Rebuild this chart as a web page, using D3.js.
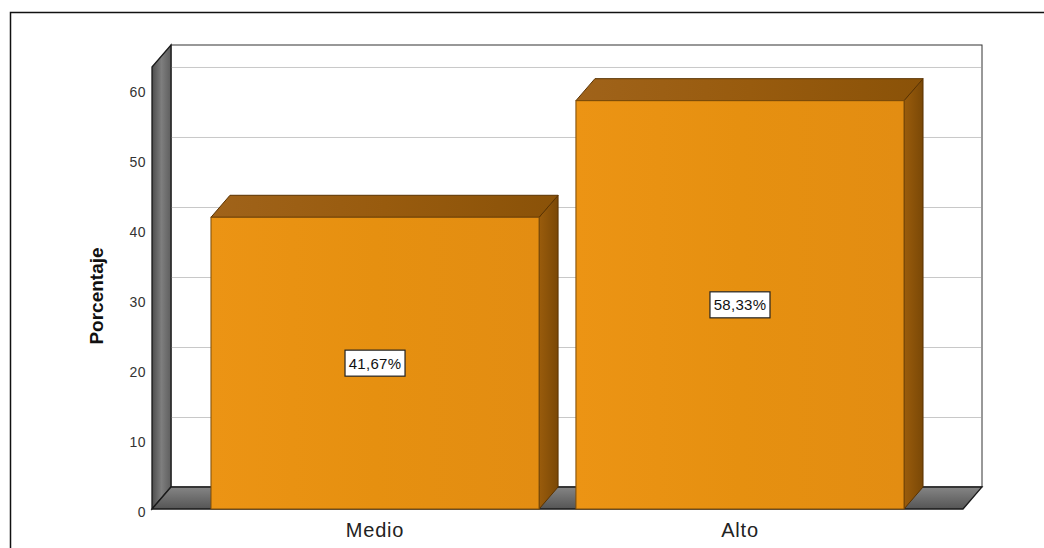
<!DOCTYPE html>
<html>
<head>
<meta charset="utf-8">
<script src="https://cdn.jsdelivr.net/npm/d3@7"></script>
<style>
  body { margin: 0; background: #fff; }
  svg { display: block; }
</style>
</head>
<body>
<svg id="chart" width="1044" height="548"></svg>
<script>
// Data
const categories = ["Medio", "Alto"];
const percentages = [41.67, 58.33];
const valueLabels = ["41,67%", "58,33%"];
const yTicks = [0, 10, 20, 30, 40, 50, 60];
const yTitle = "Porcentaje";

const svg = d3.select("#chart");

// Front plane of the 3D box and its depth offset
const front = { left: 152, right: 963, bottom: 509, top: 67 };
const depth = { dx: 19, dy: 22 };

const x = d3.scaleBand()
  .domain(categories)
  .range([front.left, front.right])
  .paddingInner(0.101)
  .paddingOuter(0.1616);

const y = d3.scaleLinear()
  .domain([0, 63.14])
  .range([front.bottom, front.top]);

// Gradients
const defs = svg.append("defs");
function linGrad(id, x1, y1, x2, y2, stops) {
  const g = defs.append("linearGradient").attr("id", id)
    .attr("x1", x1).attr("y1", y1).attr("x2", x2).attr("y2", y2);
  stops.forEach(([o, c]) => g.append("stop").attr("offset", o).attr("stop-color", c));
}
linGrad("wallGrad", "0", "0", "1", "0", [[0, "#4e4e4e"], [0.5, "#7e7e7e"], [1, "#5e5e5e"]]);
linGrad("floorGrad", "0", "0", "0", "1", [[0, "#858585"], [1, "#555555"]]);
linGrad("frontGrad", "0", "0", "1", "0", [[0, "#ec9414"], [0.5, "#e69010"], [1, "#e38d12"]]);
linGrad("topGrad", "0", "0", "1", "0", [[0, "#a0631a"], [0.5, "#985b0e"], [1, "#8a5208"]]);
linGrad("sideGrad", "0", "0", "1", "0", [[0, "#9a5c0c"], [1, "#7a4806"]]);

// Outer frame
svg.append("rect")
  .attr("x", 10.5).attr("y", 12.5)
  .attr("width", 1040).attr("height", 540)
  .attr("fill", "none").attr("stroke", "#111").attr("stroke-width", 1.5);

const backLeft = front.left + depth.dx;
const backRight = front.right + depth.dx;
const backTop = front.top - depth.dy;
const backBottom = front.bottom - depth.dy;

// Back wall
svg.append("rect")
  .attr("x", backLeft).attr("y", backTop)
  .attr("width", backRight - backLeft).attr("height", backBottom - backTop)
  .attr("fill", "#fff").attr("stroke", "#333").attr("stroke-width", 1);

// Gridlines on the back wall
svg.append("g")
  .selectAll("line")
  .data(yTicks.filter(v => v > 0))
  .join("line")
  .attr("x1", backLeft).attr("x2", backRight - 1)
  .attr("y1", v => y(v) - depth.dy + 0.5)
  .attr("y2", v => y(v) - depth.dy + 0.5)
  .attr("stroke", "#c8c8c8").attr("stroke-width", 1);

// Left wall
svg.append("path")
  .attr("d", `M${front.left},${front.top} L${backLeft},${backTop} L${backLeft},${backBottom} L${front.left},${front.bottom} Z`)
  .attr("fill", "url(#wallGrad)").attr("stroke", "#1a1a1a").attr("stroke-width", 1.3);

// Floor
svg.append("path")
  .attr("d", `M${front.left},${front.bottom} L${backLeft},${backBottom} L${backRight},${backBottom} L${front.right},${front.bottom} Z`)
  .attr("fill", "url(#floorGrad)").attr("stroke", "#1a1a1a").attr("stroke-width", 1.3);

// Bars: side face, top face, front face
const bars = svg.append("g")
  .selectAll("g")
  .data(categories.map((c, i) => ({ c, v: percentages[i], label: valueLabels[i] })))
  .join("g");

bars.each(function (d) {
  const g = d3.select(this);
  const x0 = x(d.c), x1 = x(d.c) + x.bandwidth();
  const yt = y(d.v), yb = y(0);
  g.append("path")
    .attr("d", `M${x1},${yt} L${x1 + depth.dx},${yt - depth.dy} L${x1 + depth.dx},${yb - depth.dy} L${x1},${yb} Z`)
    .attr("fill", "url(#sideGrad)").attr("stroke", "#5a3200").attr("stroke-width", 1);
  g.append("path")
    .attr("d", `M${x0},${yt} L${x0 + depth.dx},${yt - depth.dy} L${x1 + depth.dx},${yt - depth.dy} L${x1},${yt} Z`)
    .attr("fill", "url(#topGrad)").attr("stroke", "#5a3200").attr("stroke-width", 1);
  g.append("rect")
    .attr("x", x0).attr("y", yt)
    .attr("width", x1 - x0).attr("height", yb - yt)
    .attr("fill", "url(#frontGrad)").attr("stroke", "#7a4a08").attr("stroke-width", 1);
});

// Value labels in boxes at bar centre
const labels = bars.append("g")
  .attr("transform", d => `translate(${x(d.c) + x.bandwidth() / 2},${(y(d.v) + y(0)) / 2})`);
labels.append("rect")
  .attr("x", -30).attr("y", -13).attr("width", 60).attr("height", 26)
  .attr("fill", "#fff").attr("stroke", "#222").attr("stroke-width", 1.2);
labels.append("text")
  .attr("text-anchor", "middle").attr("dy", "0.36em")
  .attr("font-family", "Liberation Sans, Arial, sans-serif")
  .attr("font-size", 15).attr("letter-spacing", 0.3).attr("fill", "#111")
  .text(d => d.label);

// Y axis tick labels
const yAxis = d3.axisLeft(y).tickValues(yTicks).tickSize(0).tickPadding(0).tickFormat(d3.format("d"));
svg.append("g")
  .attr("transform", `translate(146,3)`)
  .call(yAxis)
  .call(g => g.select(".domain").remove())
  .selectAll("text")
  .attr("font-family", "Liberation Sans, Arial, sans-serif")
  .attr("font-size", 14).attr("letter-spacing", 0.5).attr("fill", "#333");

// X axis category labels
const xAxis = d3.axisBottom(x).tickSize(0).tickPadding(0);
svg.append("g")
  .attr("transform", `translate(0,${front.bottom + 14})`)
  .call(xAxis)
  .call(g => g.select(".domain").remove())
  .selectAll("text")
  .attr("font-family", "Liberation Sans, Arial, sans-serif")
  .attr("font-size", 20).attr("letter-spacing", 0.8).attr("fill", "#222");

// Y axis title
svg.append("text")
  .attr("transform", `translate(103,296) rotate(-90)`)
  .attr("text-anchor", "middle")
  .attr("font-family", "Liberation Sans, Arial, sans-serif")
  .attr("font-weight", "bold").attr("font-size", 19).attr("fill", "#111")
  .text(yTitle);
</script>
</body>
</html>
